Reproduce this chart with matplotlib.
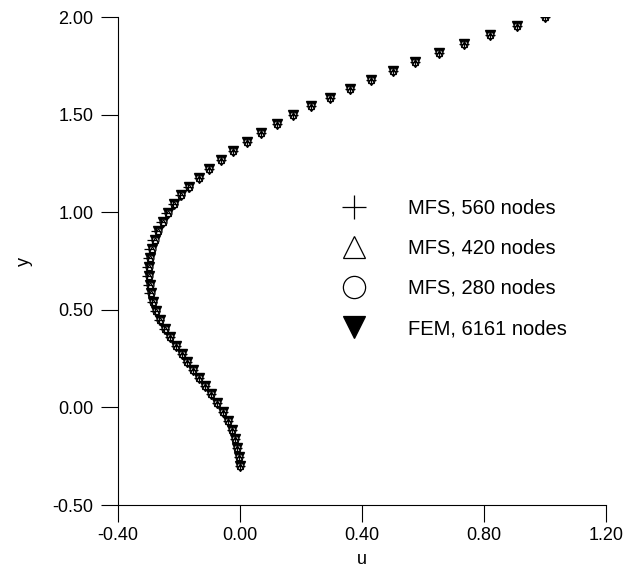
import matplotlib
matplotlib.use("Agg")
import matplotlib.pyplot as plt
from matplotlib.ticker import FormatStrFormatter

plt.rcParams['font.family'] = ['Liberation Sans', 'DejaVu Sans']

# Data (u along y)
y_vals = [2.000, 1.954, 1.908, 1.862, 1.815, 1.769, 1.723, 1.677, 1.631, 1.585,
          1.544, 1.497, 1.451, 1.405, 1.359, 1.313, 1.267, 1.221, 1.174, 1.128,
          1.087, 1.041, 0.995, 0.949, 0.903, 0.856, 0.810, 0.764, 0.718, 0.672,
          0.626, 0.585, 0.538, 0.492, 0.446, 0.400, 0.359, 0.313, 0.272, 0.231,
          0.190, 0.149, 0.108, 0.067, 0.021, -0.026, -0.072, -0.118, -0.164,
          -0.210, -0.256, -0.300]
u_fem = [1.000, 0.908, 0.820, 0.734, 0.652, 0.574, 0.502, 0.430, 0.361, 0.295,
         0.233, 0.174, 0.121, 0.069, 0.023, -0.023, -0.062, -0.102, -0.134, -0.167,
         -0.193, -0.216, -0.236, -0.252, -0.269, -0.279, -0.289, -0.295, -0.298, -0.298,
         -0.295, -0.292, -0.285, -0.275, -0.262, -0.246, -0.230, -0.210, -0.190, -0.174,
         -0.154, -0.134, -0.115, -0.095, -0.075, -0.056, -0.039, -0.026, -0.016,
         -0.010, -0.004, 0.000]
u_mfs560 = [1.000, 0.908, 0.820, 0.734, 0.652, 0.574, 0.502, 0.430, 0.361, 0.295,
            0.233, 0.174, 0.121, 0.069, 0.023, -0.023, -0.062, -0.102, -0.136, -0.170,
            -0.197, -0.221, -0.242, -0.259, -0.276, -0.287, -0.297, -0.303, -0.306, -0.306,
            -0.303, -0.298, -0.290, -0.279, -0.265, -0.248, -0.231, -0.211, -0.191, -0.174,
            -0.154, -0.134, -0.115, -0.095, -0.075, -0.056, -0.039, -0.026, -0.016,
            -0.010, -0.004, 0.000]
u_mfs420 = list(u_fem)
u_mfs280 = list(u_fem)

x_ticks = [-0.40, 0.00, 0.40, 0.80, 1.20]
y_ticks = [-0.50, 0.00, 0.50, 1.00, 1.50, 2.00]

fig = plt.figure(figsize=(6.24, 5.71), dpi=100)
ax = fig.add_axes([118/624, 1-505/571, (606-118)/624, (505-17)/571])

ax.plot(u_fem, y_vals, linestyle='none', marker='v', markersize=7, color='black',
        label='FEM, 6161 nodes', zorder=2)
ax.plot(u_mfs280, y_vals, linestyle='none', marker='o', markersize=5, markerfacecolor='white',
        markeredgecolor='black', markeredgewidth=0.9, label='MFS, 280 nodes', zorder=3)
ax.plot(u_mfs420, y_vals, linestyle='none', marker='^', markersize=4.5, markerfacecolor='none',
        markeredgecolor='black', markeredgewidth=0.9, label='MFS, 420 nodes', zorder=4)
ax.plot(u_mfs560, y_vals, linestyle='none', marker='+', markersize=7, color='black',
        markeredgewidth=0.9, label='MFS, 560 nodes', zorder=5)

ax.set_xlim(-0.40, 1.20)
ax.set_ylim(-0.50, 2.00)
ax.set_xticks(x_ticks)
ax.set_yticks(y_ticks)
ax.xaxis.set_major_formatter(FormatStrFormatter('%.2f'))
ax.yaxis.set_major_formatter(FormatStrFormatter('%.2f'))
for s in ['top', 'right']:
    ax.spines[s].set_visible(False)
for s in ['left', 'bottom']:
    ax.spines[s].set_linewidth(0.8)
ax.tick_params(axis='both', direction='out', length=12, width=0.8, labelsize=13)
ax.tick_params(axis='x', pad=4)
ax.tick_params(axis='y', pad=5.5)
ax.set_xlabel('u', fontsize=13, labelpad=5)
ax.set_ylabel('y', fontsize=13, labelpad=14)

handles, labels = ax.get_legend_handles_labels()
order = [3, 2, 1, 0]
leg = ax.legend([handles[i] for i in order], [labels[i] for i in order],
                loc='upper left', bbox_to_anchor=(0.415, 0.665), frameon=False,
                fontsize=14.5, handletextpad=1.95, labelspacing=1.05,
                handlelength=1.5)
leg_sizes = [17, 16, 16, 16]
for h, s in zip(leg.legend_handles, leg_sizes):
    h.set_markersize(s)
    h.set_markeredgewidth(0.9)

fig.savefig('out.png', dpi=100)
